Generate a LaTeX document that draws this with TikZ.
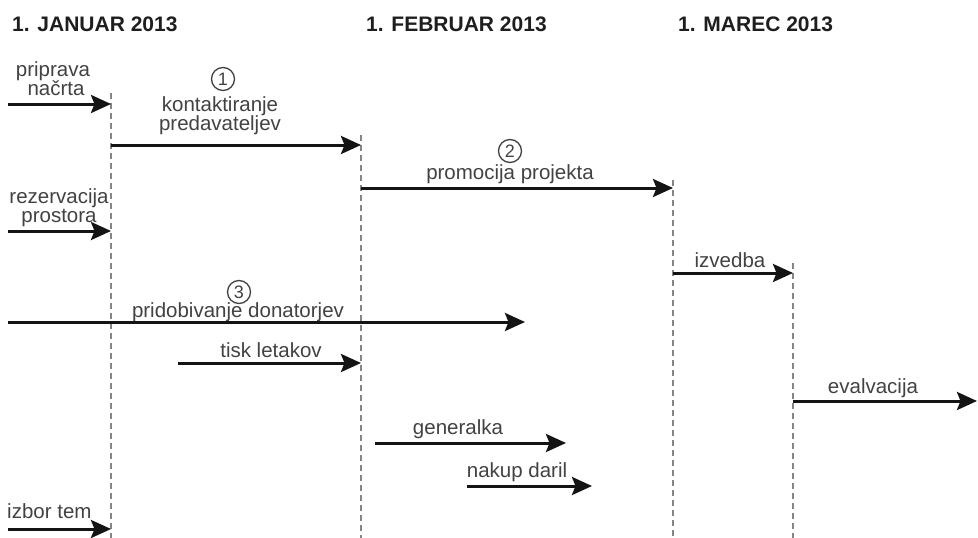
\documentclass[tikz,border=0pt]{standalone}
\usepackage{fontspec}
\setmainfont{Liberation Sans}
\usetikzlibrary{arrows.meta}
\definecolor{txt}{HTML}{424242}
\definecolor{hdr}{HTML}{1E1E1E}
\definecolor{guidecol}{HTML}{858585}
\begin{document}
\begin{tikzpicture}[x=1pt,y=-1pt,
  lbl/.style={anchor=base, inner sep=0pt, text=txt, font=\fontsize{20.5}{18}\selectfont},
  hdrtxt/.style={anchor=base west, inner sep=0pt, text=hdr, font=\fontsize{21}{21}\selectfont\bfseries},
  flow/.style={line width=3pt, draw=black!92, -{Stealth[length=20pt,width=18pt,inset=3.5pt]}},
  guide/.style={draw=guidecol, line width=1.1pt, dash pattern=on 6pt off 4pt},
  num/.style={circle, draw=txt, line width=1.3pt, minimum size=23pt, inner sep=0pt, text=txt, font=\fontsize{18}{18}\selectfont}]
\useasboundingbox (0,0) rectangle (978,538);

% headers
\node[hdrtxt] (h1) at (12,31) {1. JANUAR 2013};
\node[hdrtxt] (h2) at (366,31) {1. FEBRUAR 2013};
\node[hdrtxt] (h3) at (678,31) {1. MAREC 2013};

% guide lines
\coordinate (g1t) at (111,93);  \coordinate (g1b) at (111,538);
\coordinate (g2t) at (361,135); \coordinate (g2b) at (361,538);
\coordinate (g3t) at (673,180); \coordinate (g3b) at (673,538);
\coordinate (g4t) at (793,263); \coordinate (g4b) at (793,538);
\draw[guide] (g1t) -- (g1b);
\draw[guide] (g2t) -- (g2b);
\draw[guide] (g3t) -- (g3b);
\draw[guide] (g4t) -- (g4b);

% arrow end points
\coordinate (s1) at (8,104);    \coordinate (e1) at (111,104);
\coordinate (s2) at (111,145);  \coordinate (e2) at (361,145);
\coordinate (s3) at (361,188);  \coordinate (e3) at (673,188);
\coordinate (s4) at (8,231);    \coordinate (e4) at (111,231);
\coordinate (s5) at (673,273);  \coordinate (e5) at (793,273);
\coordinate (s6) at (8,322);    \coordinate (e6) at (525,322);
\coordinate (s7) at (178,363);  \coordinate (e7) at (361,363);
\coordinate (s8) at (793,401);  \coordinate (e8) at (977,401);
\coordinate (s9) at (375,443);  \coordinate (e9) at (566,443);
\coordinate (s10) at (467,486); \coordinate (e10) at (592,486);
\coordinate (s11) at (8,529);   \coordinate (e11) at (111,529);

% labels
\node[lbl] (t1a) at (53,76) {priprava};
\node[lbl] (t1b) at (56,95) {načrta};
\node[num] (n1) at (223,79) {1};
\node[lbl] (t2a) at (220,111) {kontaktiranje};
\node[lbl] (t2b) at (220,130) {predavateljev};
\node[num] (n2) at (510,151) {2};
\node[lbl] (t3) at (510,179) {promocija projekta};
\node[lbl] (t4a) at (59,203) {rezervacija};
\node[lbl] (t4b) at (59,222) {prostora};
\node[lbl] (t5) at (730,267) {izvedba};
\node[num] (n3) at (239,292) {3};
\node[lbl] (t6) at (238,317) {pridobivanje donatorjev};
\node[lbl] (t7) at (271,357) {tisk letakov};
\node[lbl] (t8) at (873,393) {evalvacija};
\node[lbl] (t9) at (458,434) {generalka};
\node[lbl] (t10) at (517,477) {nakup daril};
\node[lbl, anchor=base west] (t11) at (7,518) {izbor tem};

% arrows
\draw[flow] (s1) -- (e1);
\draw[flow] (s2) -- (e2);
\draw[flow] (s3) -- (e3);
\draw[flow] (s4) -- (e4);
\draw[flow] (s5) -- (e5);
\draw[flow] (s6) -- (e6);
\draw[flow] (s7) -- (e7);
\draw[flow] (s8) -- (e8);
\draw[flow] (s9) -- (e9);
\draw[flow] (s10) -- (e10);
\draw[flow] (s11) -- (e11);
\end{tikzpicture}
\end{document}
